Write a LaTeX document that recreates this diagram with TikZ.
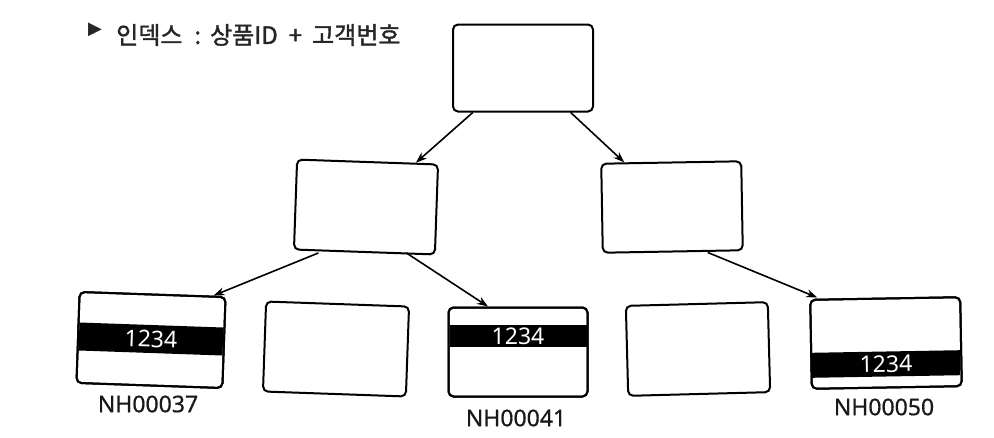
\documentclass[tikz,border=0pt]{standalone}
\usepackage{fontspec}
\setmainfont{Noto Sans}
\newfontfamily\kor[FakeBold=1.5]{Noto Sans CJK KR}
\newfontfamily\sym{DejaVu Sans}
\newfontfamily\lblfont[FakeBold=0.6]{Noto Sans}
\usetikzlibrary{arrows.meta}
\begin{document}
\begin{tikzpicture}[x=1pt,y=-1pt,
  box/.style={draw=black,line width=2pt,rounded corners=5pt,fill=white,inner sep=0pt},
  band/.style={fill=black,inner sep=0pt,text=white,font=\fontsize{23}{24}\selectfont},
  lbl/.style={font=\lblfont\fontsize{23}{26}\selectfont,text=black!90,inner sep=0pt},
  arr/.style={line width=1.6pt,-{Stealth[length=11pt,width=8pt]}}]
\useasboundingbox[fill=white] (0,0) rectangle (994,437);
% title
\node[inner sep=0pt,font=\sym\fontsize{18}{18}\selectfont,text=black!85] (tri) at (95,30) {▶};
\node[anchor=west,inner sep=0pt,font=\kor\fontsize{24}{26}\selectfont,text=black!85] (title) at (116,35) {인덱스\hspace{12pt}:\hspace{9pt}상품ID\hspace{11pt}+\hspace{10pt}고객번호};
% nodes
\node[box,minimum width=140pt,minimum height=87pt] (top) at (523,68) {};
\node[box,minimum width=141pt,minimum height=90pt,rotate=-2] (ml) at (366,207) {};
\node[box,minimum width=140pt,minimum height=89pt,rotate=1] (mr) at (672,207) {};
% bottom row
\node[box,minimum width=146pt,minimum height=91pt,rotate=-2] (b1) at (151,340) {};
\node[band,minimum width=144pt,minimum height=28pt,rotate=-2] (b1band) at (151,339) {1234};
\node[box,minimum width=146pt,minimum height=91pt,rotate=-2,fill=none] (b1o) at (151,340) {};
\node[box,minimum width=143pt,minimum height=90pt,rotate=-2] (b2) at (336,349) {};
\node[box,minimum width=139pt,minimum height=89pt] (b3) at (518,352) {};
\node[band,minimum width=137pt,minimum height=22pt] (b3band) at (518,336) {1234};
\node[box,minimum width=139pt,minimum height=89pt,fill=none] (b3o) at (518,352) {};
\node[box,minimum width=142pt,minimum height=90pt,rotate=1.5] (b4) at (698,349) {};
\node[box,minimum width=150pt,minimum height=89pt,rotate=1] (b5) at (886,343) {};
\node[band,minimum width=148pt,minimum height=25pt,rotate=1] (b5band) at (886,364) {1234};
\node[box,minimum width=150pt,minimum height=89pt,rotate=1,fill=none] (b5o) at (886,343) {};
% labels
\node[lbl] (l1) at (148,404) {NH00037};
\node[lbl] (l3) at (516,418) {NH00041};
\node[lbl] (l5) at (884,407) {NH00050};
% arrows
\draw[arr] (top) -- (ml);
\draw[arr] (top) -- (mr);
\draw[arr] ([xshift=-46pt]ml.south) -- ([xshift=61pt,yshift=-2pt]b1.north);
\draw[arr] ([xshift=42pt]ml.south) -- ([xshift=-30pt]b3.north);
\draw[arr] ([xshift=35pt]mr.south) -- ([xshift=-68pt]b5.north);
\end{tikzpicture}
\end{document}
